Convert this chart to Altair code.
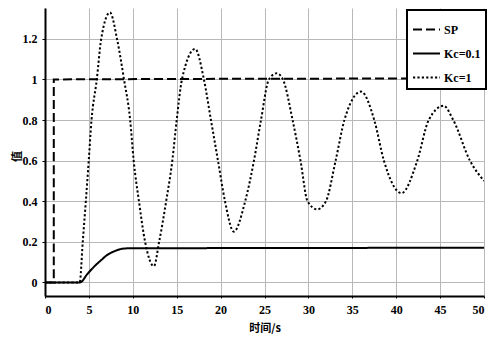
import altair as alt
import pandas as pd

# SP (set point) step
sp_t = [0, 1, 1, 50]
sp_y = [0, 0, 1, 1.005]

# Kc = 0.1 response
k01_t = [0, 4, 4.8, 5.65, 6.4, 7.15, 8.0, 8.6, 9.6, 20, 35, 50]
k01_y = [0, 0, 0.04, 0.08, 0.11, 0.137, 0.155, 0.164, 0.168, 0.169, 0.170, 0.171]

# Kc = 1 response
k1_t = [0, 3.95, 4.3, 4.65, 4.98, 5.3, 5.9, 6.4, 7.4, 8.2, 9.0, 9.7, 10.1, 10.7, 11.4, 12.4,
        13.0, 13.8, 14.5, 15.0, 15.6, 17.1, 18.1, 18.9, 19.7, 20.5, 21.5,
        22.8, 23.8, 24.6, 25.5, 26.4, 27.1, 28.2, 29.1, 29.9, 31.0,
        32.0, 33.1, 34.1, 36.0, 37.5, 38.6, 40.6, 42.4, 43.7, 45.4, 46.5, 48.4, 50]
k1_y = [0, 0, 0.2, 0.4, 0.6, 0.8, 1.0, 1.2, 1.33, 1.2, 1.0, 0.8, 0.6, 0.4, 0.2, 0.08,
        0.2, 0.4, 0.6, 0.8, 1.0, 1.15, 1.0, 0.8, 0.6, 0.4, 0.25,
        0.4, 0.6, 0.8, 1.0, 1.03, 1.0, 0.8, 0.6, 0.4, 0.36,
        0.4, 0.6, 0.8, 0.94, 0.8, 0.6, 0.44, 0.6, 0.8, 0.87, 0.8, 0.6, 0.5]

names = ["SP", "Kc=0.1", "Kc=1"]
x_ticks = [0, 5, 10, 15, 20, 25, 30, 35, 40, 45, 50]
y_ticks = [0, 0.2, 0.4, 0.6, 0.8, 1, 1.2]

rows = []
for i, (t, y) in enumerate(zip(sp_t, sp_y)):
    rows.append({"t": t, "y": y, "s": names[0], "o": i})
for i, (t, y) in enumerate(zip(k01_t, k01_y)):
    rows.append({"t": t, "y": y, "s": names[1], "o": i})
for i, (t, y) in enumerate(zip(k1_t, k1_y)):
    rows.append({"t": t, "y": y, "s": names[2], "o": i})
df = pd.DataFrame(rows)

font = "Liberation Serif"
cjk = "Noto Sans CJK SC"

x = alt.X("t:Q", title="时间/s",
          scale=alt.Scale(domain=[0, 50], nice=False, zero=False),
          axis=alt.Axis(values=x_ticks, labelFont=font, labelFontWeight="bold",
                        labelFontSize=12, labelColor="black", titleFont=cjk,
                        titleFontWeight="bold", titleFontSize=11, titleColor="black",
                        domainColor="black", domainWidth=2, tickColor="black",
                        tickSize=2, labelPadding=6, titlePadding=7,
                        gridColor="#b8b8b8", gridWidth=1))
y = alt.Y("y:Q", title="值",
          scale=alt.Scale(domain=[-0.067, 1.352], nice=False, zero=False),
          axis=alt.Axis(values=y_ticks, labelFont=font, labelFontWeight="bold",
                        labelFontSize=12, labelColor="black", titleFont=cjk,
                        titleFontWeight="bold", titleFontSize=11, titleColor="black",
                        domainColor="black", domainWidth=2, tickColor="black",
                        tickSize=3, labelPadding=5,
                        titleX=-28, titleY=148, titleAngle=270,
                        titleAlign="center", titleBaseline="middle",
                        gridColor="#b8b8b8", gridWidth=1,
                        labelExpr="datum.value == 0 ? '0' : format(datum.value, '.1~f')"))

chart = alt.Chart(df).mark_line(interpolate="monotone", color="black", clip=True).encode(
    x=x, y=y,
    order="o:Q",
    strokeDash=alt.StrokeDash("s:N", sort=names,
        scale=alt.Scale(domain=names, range=[[9, 4], [1, 0], [2.2, 2.2]]),
        legend=alt.Legend(title=None, orient="none", legendX=362, legendY=2,
                          symbolType="stroke", symbolSize=729, symbolStrokeWidth=2,
                          symbolStrokeColor="black", labelFont=font,
                          labelFontWeight="bold", labelFontSize=12, labelColor="black",
                          strokeColor="black", padding=5, rowPadding=3,
                          fillColor="white", labelOffset=3)),
    strokeWidth=alt.StrokeWidth("s:N", sort=names,
        scale=alt.Scale(domain=names, range=[2, 2, 2.6]), legend=None),
).properties(
    width=439, height=288,
    autosize=alt.AutoSizeParams(type="none"),
    padding={"left": 37, "top": 0, "right": 8, "bottom": 40},
).configure_view(stroke=None).configure_legend(strokeWidth=2)

chart.save("out.html", embed_options={"renderer": "svg", "actions": False})
